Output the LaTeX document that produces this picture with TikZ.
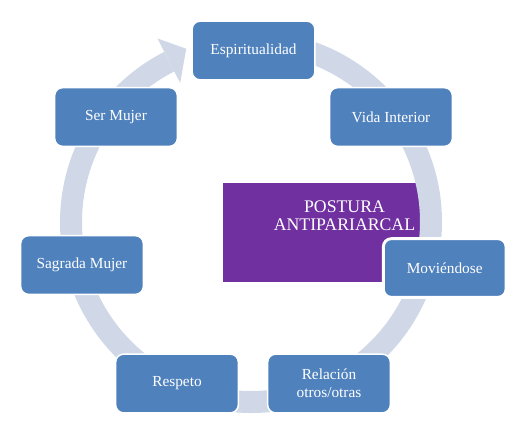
\documentclass[tikz,border=0pt]{standalone}
\usepackage{fontspec}
\setmainfont{Liberation Serif}
\usetikzlibrary{calc}
\definecolor{pasoazul}{HTML}{4F81BD}
\definecolor{anillo}{HTML}{D0D8E8}
\definecolor{morado}{HTML}{7030A0}
\begin{document}
\begin{tikzpicture}[x=0.75pt, y=-0.75pt,
		paso/.style={draw=white, line width=1.1pt, fill=pasoazul,
			rounded corners=6pt, minimum width=92pt, minimum height=44pt,
			inner sep=0pt, text=white, align=center,
			font=\rmfamily\fontsize{11.5}{13.5}\selectfont}]
		\pgfmathsetmacro{\rr}{180}
		\pgfmathsetmacro{\rw}{22*0.75}
		\useasboundingbox (0,0) rectangle (529,436);
		\coordinate (centro) at (251,222);
		% fondo morado
		\fill[morado] (222.7,183.3) rectangle (421,282);
		\node[text=white, align=center, font=\rmfamily\fontsize{13.3}{13.8}\selectfont]
			(postura) at (344.5,216) {POSTURA\\ANTIPARIARCAL};
		% anillo con flecha
		\draw[anillo, line width=\rw pt] (centro) ++(-85:\rr)
			arc[start angle=-85, end angle=243, radius=\rr];
		\fill[anillo] ($(centro)+(-110.5:185)$) -- ($(centro)+(-117:206)$)
			-- ($(centro)+(-117:156)$) -- cycle;
		% pasos
		\node[paso] (espiritualidad) at (253.5,50.5) {Espiritualidad};
		\node[paso] (vida) at (391,117) {Vida Interior};
		\node[paso, line width=2.2pt] (moviendose) at (444.7,268) {Moviéndose};
		\node[paso] (relacion) at (329,383.5) {Relación\\otros/otras};
		\node[paso] (respeto) at (177,383.5) {Respeto};
		\node[paso] (sagrada) at (82,265) {Sagrada Mujer};
		\node[paso] (ser) at (116,117) {Ser Mujer};
	\end{tikzpicture}
\end{document}
